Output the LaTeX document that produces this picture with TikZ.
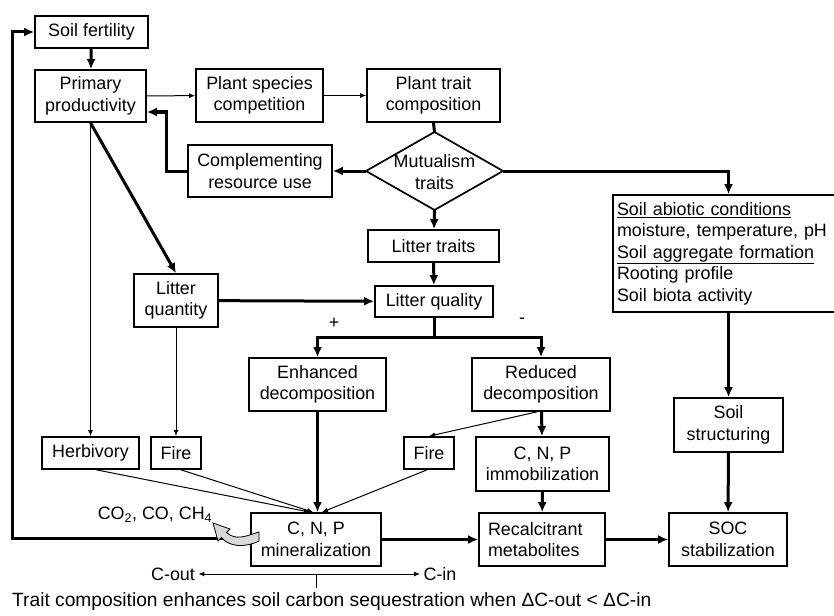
\documentclass[tikz,border=0pt]{standalone}
\usepackage{fontspec}
\setmainfont{Liberation Sans}
\usetikzlibrary{arrows.meta, calc, positioning}

\begin{document}
\begin{tikzpicture}[x=1pt, y=-1pt,
    font=\fontsize{17.9}{21.5}\selectfont,
    box/.style={draw, line width=1.7pt, align=center, inner sep=0pt},
    thinarr/.style={-{Latex[length=6pt,width=5pt]}, line width=1pt},
    thickarr/.style={-{Latex[length=10pt,width=9pt]}, line width=3pt}]
    \useasboundingbox (0,0) rectangle (834,615);

    \node[box, minimum width=113, minimum height=32] (fert) at (91.5,32) {Soil fertility};
    \node[box, minimum width=111, minimum height=52] (prod) at (90.5,96) {Primary\\productivity};
    \node[box, minimum width=127, minimum height=53] (comp) at (259.5,95.5) {Plant species\\competition};
    \node[box, minimum width=133, minimum height=53] (ptc) at (433.5,95.5) {Plant trait\\composition};
    \node[align=center] (mut) at (434.5,172) {Mutualism\\traits};
    \draw[line width=1.7pt] (434.5,132) coordinate (mutN) -- (503,171) coordinate (mutE)
        -- (434.5,210) coordinate (mutS) -- (366,171) coordinate (mutW) -- cycle;
    \node[box, minimum width=144, minimum height=52] (cru) at (260,171) {Complementing\\resource use};
    \node[box, minimum width=131, minimum height=32] (ltr) at (433.5,246) {Litter traits};
    \node[box, minimum width=118, minimum height=31] (lq) at (434,301.5) {Litter quality};
    \node[box, minimum width=84, minimum height=53] (lqt) at (176,300.5) {Litter\\quantity};
    \node[box, minimum width=222, minimum height=117, text width=214, inner xsep=4pt, align=left] (abio) at (724,253.5)
        {\underline{Soil abiotic conditions}\\moisture, temperature, pH\\\underline{Soil aggregate formation}\\Rooting profile\\Soil biota activity};
    \node[box, minimum width=137, minimum height=53] (enh) at (317.5,384.5) {Enhanced\\decomposition};
    \node[box, minimum width=138, minimum height=53] (red) at (541,384.5) {Reduced\\decomposition};
    \node[box, minimum width=109, minimum height=54] (sstr) at (728.5,425) {Soil\\structuring};
    \node[box, minimum width=97, minimum height=32] (herb) at (90.5,453) {Herbivory};
    \node[box, minimum width=50, minimum height=32] (fire1) at (176,453) {Fire};
    \node[box, minimum width=50, minimum height=32] (fire2) at (429,453) {Fire};
    \node[box, minimum width=133, minimum height=54] (immo) at (542.5,464) {C, N, P\\immobilization};
    \node[box, minimum width=130, minimum height=53] (mine) at (316,539.5) {C, N, P\\mineralization};
    \node[box, minimum width=126, minimum height=53, text width=108, inner xsep=9pt, align=left] (rec) at (542,539.5) {Recalcitrant\\metabolites};
    \node[box, minimum width=118, minimum height=53] (soc) at (728,539.5) {SOC\\stabilization};

    \node (plus) at (334,323) {+};
    \node (minus) at (522,321) {-};
    \node (gas) at (155,515) {CO\textsubscript{2}, CO, CH\textsubscript{4}};
    \node (cout) at (173,574) {C-out};
    \node (cin) at (440,574) {C-in};
    \node[anchor=west, inner xsep=0pt, font=\fontsize{19.2}{22}\selectfont] (note) at (12,602)
        {Trait composition enhances soil carbon sequestration when ΔC-out < ΔC-in};

    % top row
    \draw[thickarr] (fert) -- (prod);
    \draw[thinarr] (prod) -- (comp);
    \draw[thinarr] (comp) -- (ptc);
    \draw[line width=3pt] (ptc.south) -- (mutN);
    \draw[thickarr] (mutW) -- (cru);
    \draw[thickarr] (cru.west) -- ++(-21,0) |- ([yshift=-16pt]prod.east);
    \draw[thickarr] (mutE) -| (sstr.north |- abio.north);
    \draw[thickarr] (mutS) -- (ltr);
    \draw[thickarr] (ltr) -- (lq);

    % litter
    \draw[thickarr] (prod.south) -- (lqt.north);
    \draw[thinarr] (prod.south) -- (herb.north);
    \draw[thinarr] (lqt) -- (fire1);
    \draw[thickarr] (lqt) -- (lq);
    \draw[line width=3pt] (lq.south) -- ++(0,20) coordinate (split);
    \draw[thickarr] (split) -| (enh.north);
    \draw[thickarr] (split) -| (red.north);

    % decomposition
    \draw[thickarr] (enh.south) -- (enh.south |- mine.north);
    \draw[thickarr] (red) -- (immo);
    \draw[thinarr] ([xshift=-4pt]red.south) -- (fire2.north);
    \draw[thinarr] ([xshift=6pt]herb.south) -- ([xshift=-6pt]mine.north);
    \draw[thinarr] ([xshift=5pt]fire1.south) -- ([xshift=-3pt]mine.north);
    \draw[thinarr] ([xshift=-2pt]fire2.south) -- ([xshift=6pt]mine.north);
    \draw[thickarr] (immo) -- (rec);
    \draw[thickarr] (mine) -- (rec);
    \draw[thickarr] (rec) -- (soc);
    \draw[thickarr] (sstr.north |- abio.south) -- (sstr.north);
    \draw[thickarr] (sstr) -- (soc);

    % feedback loop
    \coordinate (loop) at (12,538);
    \draw[thickarr] ([yshift=1.5pt]mine.west) -- (loop) |- (fert.west);
    \filldraw[fill=gray!30, line width=0.8pt] (259,532) .. controls (246,536) and (236,541) .. (226.5,532.5)
        -- (230,529) -- (213,523) -- (218,541) -- (221.5,537.5)
        .. controls (229,547) and (245,548) .. (259,541) -- cycle;

    % carbon balance
    \draw[{Latex[length=6pt,width=5pt]}-{Latex[length=6pt,width=5pt]}, line width=1pt] (cout.east) -- (cin.west);
    \draw[line width=1pt] (mine.south |- cout) -- ++(0,14);
\end{tikzpicture}
\end{document}
